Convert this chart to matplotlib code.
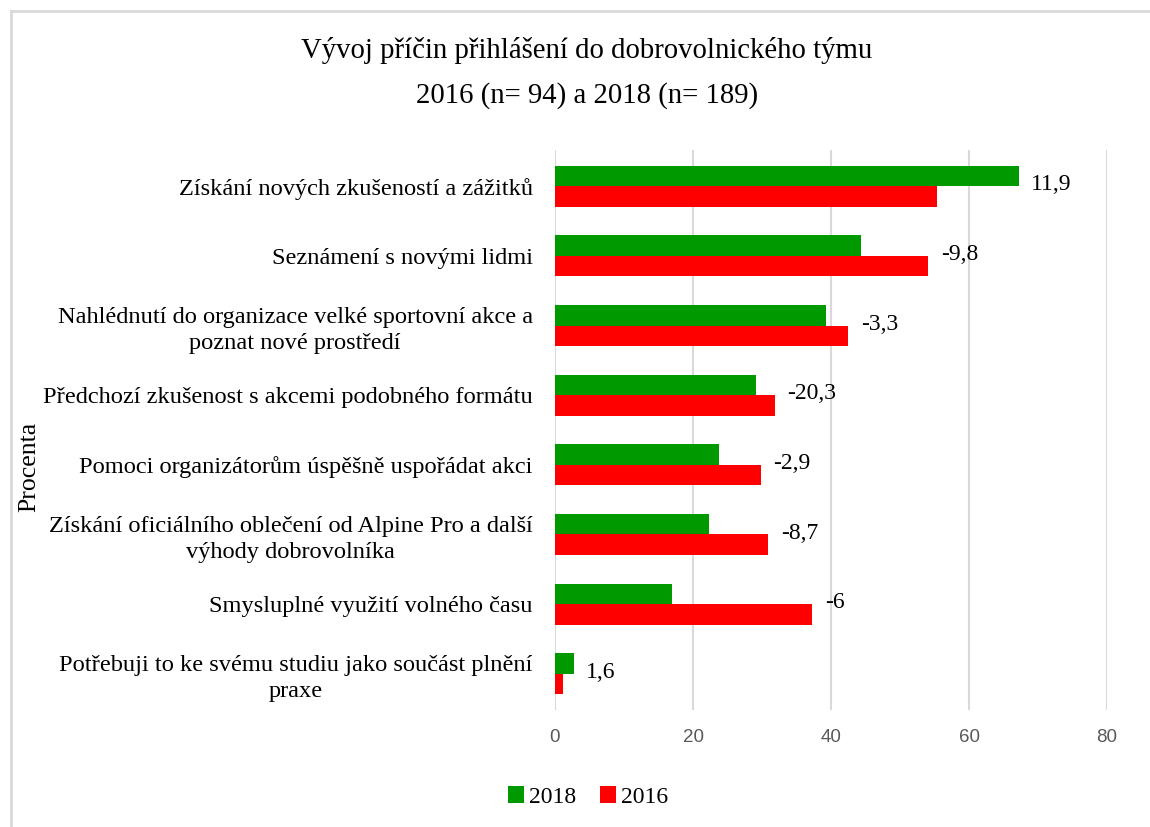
import matplotlib.pyplot as plt
import numpy as np
from matplotlib.lines import Line2D

categories = [
    "Získání nových zkušeností a zážitků",
    "Seznámení s novými lidmi",
    "Nahlédnutí do organizace velké sportovní akce a\npoznat nové prostředí",
    "Předchozí zkušenost s akcemi podobného formátu",
    "Pomoci organizátorům úspěšně uspořádat akci",
    "Získání oficiálního oblečení od Alpine Pro a další\nvýhody dobrovolníka",
    "Smysluplné využití volného času",
    "Potřebuji to ke svému studiu jako součást plnění\npraxe",
]
values_2018 = [67.2, 44.4, 39.3, 29.1, 23.8, 22.3, 16.9, 2.7]
values_2016 = [55.3, 54.1, 42.5, 31.9, 29.8, 30.9, 37.3, 1.1]
diff_labels = ["11,9", "-9,8", "-3,3", "-20,3", "-2,9", "-8,7", "-6", "1,6"]

serif = ["Liberation Serif", "DejaVu Serif"]
green = "#009900"
red = "#ff0000"
grid_color = "#d9d9d9"

fig = plt.figure(figsize=(11.5, 8.27), dpi=100)
W, H = 1150, 827
ax = fig.add_axes([555 / W, 1 - 710 / H, (1107 - 555) / W, (710 - 150) / H])

y = np.arange(len(categories))
h = 0.295
ax.barh(y - h / 2, values_2018, height=h, color=green, label="2018", zorder=3)
ax.barh(y + h / 2, values_2016, height=h, color=red, label="2016", zorder=3)

for i, lab in enumerate(diff_labels):
    xmax = max(values_2018[i], values_2016[i])
    ax.annotate(lab, (xmax, y[i]), xytext=(9, 1), textcoords="offset points",
                ha="left", va="center", fontsize=17, family=serif)

ax.set_xlim(0, 80)
ax.set_ylim(len(categories) - 0.48, -0.52)
ax.set_xticks([0, 20, 40, 60, 80])
ax.grid(axis="x", color=grid_color, linewidth=1.5, zorder=0)
for s in ax.spines.values():
    s.set_visible(False)
ax.tick_params(axis="x", length=0, pad=14, labelsize=13.5, labelcolor="#595959")
ax.tick_params(axis="y", length=0, pad=16)
for t in ax.get_xticklabels():
    t.set_family(["Liberation Sans Narrow", "Liberation Sans", "DejaVu Sans"])
ax.set_yticks(y)
ax.set_yticklabels(categories, fontsize=17.6, family=serif, multialignment="center",
                   linespacing=1.32)

fig.text(29 / W, 1 - 467 / H, "Procenta", rotation=90, ha="center", va="center",
         fontsize=18.5, family=serif)
fig.text(587 / W, 1 - 51 / H, "Vývoj příčin přihlášení do dobrovolnického týmu",
         ha="center", va="center", fontsize=20.7, family=serif)
fig.text(587 / W, 1 - 96 / H, "2016 (n= 94) a 2018 (n= 189)",
         ha="center", va="center", fontsize=20.7, family=serif)

fig.legend(loc="center", bbox_to_anchor=(588 / W, 1 - 797 / H), ncol=2, frameon=False,
           prop={"family": serif, "size": 17}, handlelength=0.7, handleheight=0.7,
           handletextpad=0.2, columnspacing=1.0)

# light frame around the chart area
fig.add_artist(Line2D([11 / W, 1], [1 - 11 / H, 1 - 11 / H], color=grid_color, linewidth=2,
                      transform=fig.transFigure))
fig.add_artist(Line2D([11 / W, 11 / W], [0, 1 - 11 / H], color=grid_color, linewidth=2,
                      transform=fig.transFigure))

fig.savefig("out.png", dpi=100)
